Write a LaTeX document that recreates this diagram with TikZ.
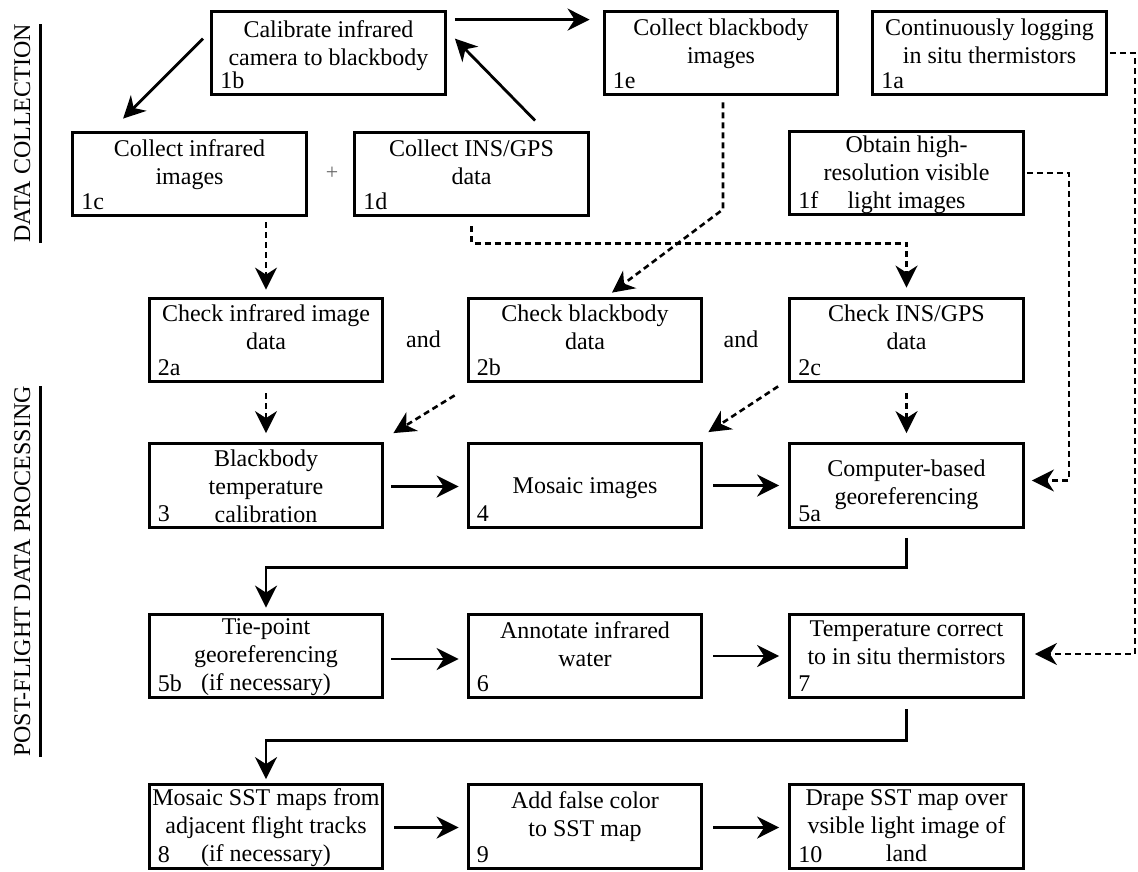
\documentclass[tikz,border=0pt]{standalone}
\usepackage{fontspec}
\setmainfont{Liberation Serif}
\usetikzlibrary{arrows.meta,calc}
\tikzset{
  box/.style={draw, line width=3.2pt, minimum width=233.6pt, minimum height=83.6pt, inner sep=0pt},
  txt/.style={anchor=base, inner sep=0pt, font=\fontsize{24}{28}\selectfont},
  lbl/.style={anchor=base west, inner sep=0pt, font=\fontsize{24}{28}\selectfont},
  arr/.style={line width=2.8pt, -{Stealth[length=22pt,width=22pt,inset=7pt]}},
  darr/.style={arr, line width=2.6pt, dash pattern=on 6pt off 4pt},
  uline/.style={line width=2.6pt},
}
\newcommand\fb[7]{%
  \node[box] (#1) at (#2) {};
  \node[txt] (#1-a) at ($(#1.north)+(0,#3)$) {#4};
  \ifx\relax#5\relax\else\node[txt] (#1-b) at ($(#1.north)+(0,#3+28)$) {#5};\fi
  \ifx\relax#6\relax\else\node[txt] (#1-c) at ($(#1.north)+(0,#3+56)$) {#6};\fi
  \node[lbl] (#1-n) at ($(#1.north west)+(10,79)$) {#7};
}
\begin{document}
\begin{tikzpicture}[x=1pt,y=-1pt]
\useasboundingbox (0,0) rectangle (1138,871);

% side labels
\node[txt, rotate=90] (dc) at (30,133.5) {DATA COLLECTION};
\node[txt, rotate=90] (pf) at (30,571.5) {POST-FLIGHT DATA PROCESSING};
\draw[uline] ($(dc.south west)+(10,0)$) -- ($(dc.south east)+(10,0)$);
\draw[uline] ($(pf.south west)+(10,0)$) -- ($(pf.south east)+(10,0)$);

% boxes
\fb{n1b}{328.5,53}{28}{Calibrate infrared}{camera to blackbody}{}{1b}
\fb{n1e}{721,53}{26}{Collect blackbody}{images}{}{1e}
\fb{n1a}{989.5,53}{26}{Continuously logging}{in situ thermistors}{}{1a}
\fb{n1c}{189.5,174}{26}{Collect infrared}{images}{}{1c}
\fb{n1d}{471.5,174}{26}{Collect INS/GPS}{data}{}{1d}
\fb{n1f}{906.5,173}{23}{Obtain high-}{resolution visible}{light images}{1f}
\fb{n2a}{266,340}{25}{Check infrared image}{data}{}{2a}
\fb{n2b}{585,340}{25}{Check blackbody}{data}{}{2b}
\fb{n2c}{906.5,340}{25}{Check INS/GPS}{data}{}{2c}
\fb{n3}{266,485.5}{24}{Blackbody}{temperature}{calibration}{3}
\fb{n4}{585,485.5}{51}{Mosaic images}{}{}{4}
\fb{n5a}{906.5,485.5}{34}{Computer-based}{georeferencing}{}{5a}
\fb{n5b}{266,656}{22}{Tie-point}{georeferencing}{(if necessary)}{5b}
\fb{n6}{585,656}{26}{Annotate infrared}{water}{}{6}
\fb{n7}{906.5,656}{24}{Temperature correct}{to in situ thermistors}{}{7}
\fb{n8}{266,826.5}{22}{Mosaic SST maps from}{adjacent flight tracks}{(if necessary)}{8}
\fb{n9}{585,826.5}{25}{Add false color}{to SST map}{}{9}
\fb{n10}{906.5,826.5}{22}{Drape SST map over}{vsible light image of}{land}{10}

% free texts
\node[font=\fontsize{22}{26}\selectfont, text=black!60, inner sep=0pt] (plus) at (332,173) {+};
\node[txt] (and1) at (423.5,347) {and};
\node[txt] (and2) at (741,347) {and};

% solid connectors
\draw[arr] ($(n1b.north east)+(8,10)$) -- ($(n1e.north west)+(-13,10)$);
\draw[arr] ($(n1b.north west)+(-7,29)$) -- ($(n1c.north west)+(52,-12)$);
\draw[arr] ($(n1d.north west)+(182,-10)$) -- ($(n1b.north east)+(8,29)$);
\draw[arr] ($(n3.east)+(7,1)$) -- ($(n4.west)+(-8,1)$);
\draw[arr] ($(n4.east)+(10,0)$) -- ($(n5a.west)+(-9,0)$);
\draw[arr] ($(n5a.south)+(0,9)$) |- ($(n5b.north)+(0,-45)$) -- ($(n5b.north)+(0,-5)$);
\draw[arr] ($(n5b.east)+(7,3)$) -- ($(n6.west)+(-8,3)$);
\draw[arr] ($(n6.east)+(10,0)$) -- ($(n7.west)+(-9,0)$);
\draw[arr] ($(n7.south)+(0,10)$) |- ($(n8.north)+(0,-43)$) -- ($(n8.north)+(0,-4)$);
\draw[arr] ($(n8.east)+(10,1)$) -- ($(n9.west)+(-8,1)$);
\draw[arr] ($(n9.east)+(10,1)$) -- ($(n10.west)+(-9,1)$);

% dashed connectors
\draw[darr] ($(n2a.north|-n1c.south)+(0,5)$) -- ($(n2a.north)+(0,-7)$);
\draw[darr] ($(n1e.south)+(2,6)$) -- ($(n1e.south)+(2,113)$) -- ($(n2b.north)+(27,-4)$);
\draw[darr] ($(n1d.south)+(0,9)$) -- ++(0,17) -| ($(n2c.north)+(0,-9)$);
\draw[darr] ($(n1f.east)+(2,0)$) -- ++(42,0) |- ($(n5a.east)+(7,-5)$);
\draw[darr] ($(n1a.east)+(2,0)$) -- ++(25,0) |- ($(n7.east)+(10,-2)$);
\draw[darr] ($(n2a.south)+(0,10)$) -- ($(n3.north)+(0,-9)$);
\draw[darr] ($(n2b.south west)+(-12,12)$) -- ($(n3.north east)+(9,-9)$);
\draw[darr] ($(n2c.south west)+(-10,3)$) -- ($(n4.north east)+(5,-10)$);
\draw[darr] ($(n2c.south)+(0,10)$) -- ($(n5a.north)+(0,-9)$);
\end{tikzpicture}
\end{document}
